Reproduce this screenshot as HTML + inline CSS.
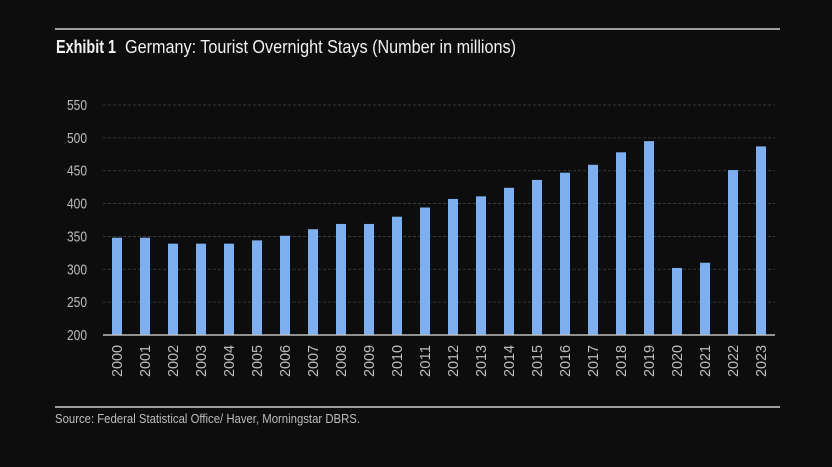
<!DOCTYPE html>
<html><head><meta charset="utf-8">
<style>
body{margin:0;background:#0d0d0d;}
svg text{font-family:"Liberation Sans Narrow","Liberation Sans",sans-serif;}
</style></head>
<body>
<svg width="832" height="462" viewBox="0 0 832 462" xmlns="http://www.w3.org/2000/svg">
<rect width="832" height="462" fill="#0d0d0d"/>
<line x1="55" y1="29" x2="780" y2="29" stroke="#cfcfcf" stroke-width="1.5"/>
<text x="56" y="53" fill="#f2f2f2" font-size="18" font-weight="bold" textLength="60" lengthAdjust="spacingAndGlyphs">Exhibit 1</text>
<text x="125" y="53" fill="#f2f2f2" font-size="18" textLength="391" lengthAdjust="spacingAndGlyphs">Germany: Tourist Overnight Stays (Number in millions)</text>
<g id="grid"></g>
<g id="yaxis"></g>
<g id="bars"></g>
<g id="xaxis"></g>
<line x1="55" y1="407" x2="780" y2="407" stroke="#cfcfcf" stroke-width="1.5"/>
<text x="55" y="423" fill="#bdbdbd" font-size="13" textLength="305" lengthAdjust="spacingAndGlyphs">Source: Federal Statistical Office/ Haver, Morningstar DBRS.</text>
</svg>
<script>
const years=["2000","2001","2002","2003","2004","2005","2006","2007","2008","2009","2010","2011","2012","2013","2014","2015","2016","2017","2018","2019","2020","2021","2022","2023"];
const stays=[348,348,339,339,339,344,351,361,369,369,380,394,407,411,424,436,447,459,478,495,302,310,451,487];
const yTicks=[200,250,300,350,400,450,500,550];
const NS="http://www.w3.org/2000/svg";
const L=103,R=775,T=105,B=335,ymin=200,ymax=550;
const y=v=>B-(v-ymin)/(ymax-ymin)*(B-T);
const band=(R-L)/years.length;
const x=i=>L+band*(i+0.5);
function mk(t,a,p){const e=document.createElementNS(NS,t);for(const k in a)e.setAttribute(k,a[k]);p.appendChild(e);return e;}
const grid=document.getElementById('grid'),ya=document.getElementById('yaxis'),bars=document.getElementById('bars'),xa=document.getElementById('xaxis');
yTicks.forEach(v=>{
  if(v>ymin){const g=mk('line',{x1:L,x2:R,y1:y(v),y2:y(v),stroke:'#444','stroke-width':0.8,'stroke-dasharray':'3 2'},grid);
  
  }
  const t=mk('text',{x:87,y:y(v)+5,fill:'#bdbdbd','font-size':15,'text-anchor':'end',textLength:20,lengthAdjust:'spacingAndGlyphs'},ya);
  t.textContent=v;
  
  
});
stays.forEach((v,i)=>{
  const r=mk('rect',{x:x(i)-5,y:y(v),width:10,height:B-y(v),fill:'#7eb0f0'},bars);
  
  
  const t=mk('text',{transform:`translate(${x(i)+5},345) rotate(-90)`,fill:'#bdbdbd','font-size':15,'text-anchor':'end',textLength:32,lengthAdjust:'spacingAndGlyphs'},xa);
  t.textContent=years[i];
  
  
});
const ax=mk('line',{x1:L,x2:R,y1:B,y2:B,stroke:'#bdbdbd','stroke-width':1.5},xa);


</script>
</body></html>
